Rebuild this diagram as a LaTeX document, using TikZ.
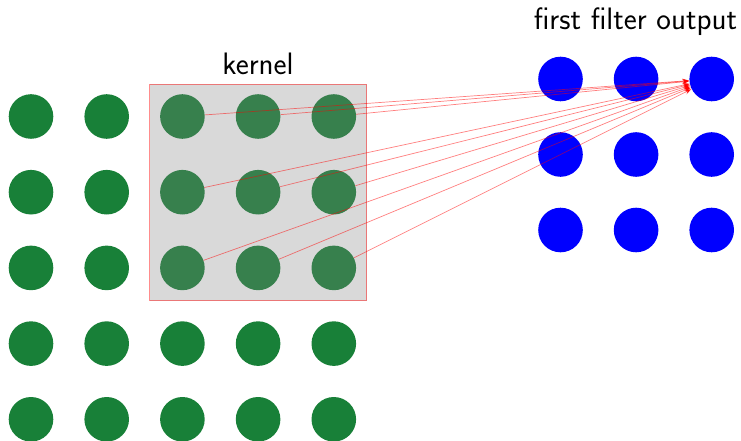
\documentclass[tikz,border=0pt]{standalone}
\usetikzlibrary{arrows.meta}
\definecolor{cgreen}{RGB}{24,128,56}
\begin{document}
\begin{tikzpicture}[x=1pt,y=-1pt,
  inp/.style={circle,fill=cgreen,minimum size=44.6pt,inner sep=0pt},
  outp/.style={circle,fill=blue,minimum size=44.6pt,inner sep=0pt},
  conn/.style={draw=red,draw opacity=0.5,line width=0.7pt,-{Stealth[length=7pt,width=5pt]}},
  lbl/.style={font=\fontsize{31}{36}\selectfont\sffamily,inner sep=0pt}]
\useasboundingbox (0,0) rectangle (741,441);
\foreach \i in {1,...,5}{
  \foreach \j in {1,...,5}{
    \node[inp] (g\i\j) at ({31+75.7*(\i-1)},{116.5+75.7*(\j-1)}) {};
  }
}
\foreach \i in {1,...,3}{
  \foreach \j in {1,...,3}{
    \node[outp] (b\i\j) at ({560.5+75.6*(\i-1)},{79+75.5*(\j-1)}) {};
  }
}
\node[draw=red,draw opacity=0.45,fill=black!50,fill opacity=0.3,line width=0.8pt,
  minimum width=217pt,minimum height=216.5pt,inner sep=0pt] (kernel) at (258,192.3) {};
\node[lbl,anchor=base] (klbl) at (258,74.5) {kernel};
\node[lbl,anchor=base] (olbl) at (635.5,30) {first filter output};
\foreach \i in {3,4,5}{
  \foreach \j in {1,2,3}{
    \draw[conn] (g\i\j) -- (b31);
  }
}
\end{tikzpicture}
\end{document}
